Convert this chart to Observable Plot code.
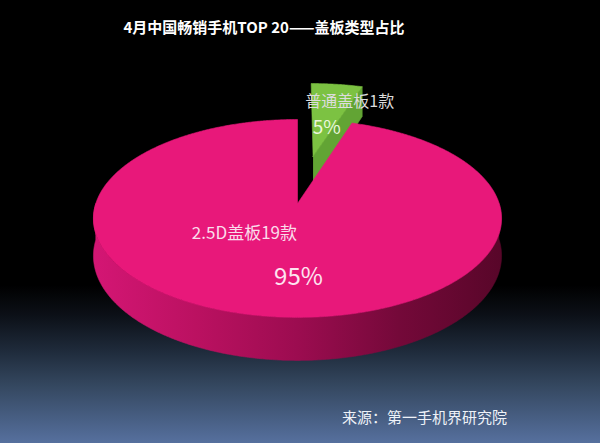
<!DOCTYPE html>
<html><head><meta charset="utf-8">
<script src="https://cdn.jsdelivr.net/npm/d3@7"></script>
<script src="https://cdn.jsdelivr.net/npm/@observablehq/plot@0.6"></script>
<style>
html,body{margin:0;padding:0;width:600px;height:443px;overflow:hidden}
body{background:linear-gradient(to bottom,#000 0px,#000 285px,#0c1017 315px,#1e2a3a 350px,#34475f 385px,#56709e 443px);font-family:"Noto Sans CJK SC","Noto Sans",sans-serif}
#title{height:50px;box-sizing:border-box;padding-top:17px;padding-right:72px;text-align:center;color:#fff;font-weight:bold;font-size:15px;line-height:20px;white-space:nowrap}
#chart{height:345px}
#chart svg{display:block;overflow:visible}
#caption{height:48px;box-sizing:border-box;padding-top:14px;padding-right:93px;text-align:right;color:#eef2f8;font-size:15px;line-height:16px;white-space:nowrap}
</style></head><body>
<div id="title"></div><div id="chart"></div><div id="caption"></div>
<script>
// ---- data ----
const titleText = "4月中国畅销手机TOP 20——盖板类型占比";
const captionText = "来源：第一手机界研究院";
const categories = ["普通盖板", "2.5D盖板"];
const counts = [1, 19];
const shares = [5, 95];
const unitLabel = "款";

// ---- styles ----
const palette = {
  "普通盖板": {top: "#7cc242", cut: "#62a434", side: ["#5c9e30", "#4a8424"], name: "#dcdcdc", pct: "#eaf6dc"},
  "2.5D盖板": {top: "#e8187a", cut: "#9a0d50", side: ["#d41674", "#bb1161", "#9c0c50", "#740939", "#580629"], name: "#fadcea", pct: "#fde4f0"}
};
const explode = {"普通盖板": 0.533, "2.5D盖板": 0};
const labelNudge = {
  "普通盖板": {name: [24, -16], pct: [1, 10]},
  "2.5D盖板": {name: [-36, -22], pct: [18, 22]}
};

// ---- simple perspective projection of a tilted disc ----
const cx = 297, cy0 = 153, R = 201.7, A = 96.7, P = 0.151, H = 36.5 / 96.7;
function proj(X, Z, b) { const s = 1 / (1 + P * Z); return {u: X * s, v: (Z - b * H) * s}; }

document.getElementById("title").textContent = titleText;
document.getElementById("caption").textContent = captionText;

const rows = categories.map((c, i) => ({category: c, count: counts[i], share: shares[i]}));
const arcs = d3.pie().sort(null).value(d => d.count)(rows);

const polys = [];
const labels = [];
arcs.forEach((a, i) => {
  const cat = a.data.category;
  const a0 = a.startAngle, a1 = a.endAngle, mid = (a0 + a1) / 2;
  const e = explode[cat];
  const ox = e * Math.sin(mid), oz = e * Math.cos(mid);
  const rim = (t, b) => proj(ox + Math.sin(t), oz + Math.cos(t), b);
  const ctr = b => proj(ox, oz, b);
  const depth = oz + Math.cos(mid);
  const faces = [];
  // cut faces
  if (Math.sin(a1) > 1e-6) faces.push({kind: "cut", pts: [ctr(0), rim(a1, 0), rim(a1, 1), ctr(1)]});
  if (Math.sin(a0) < -1e-6) faces.push({kind: "cut", pts: [ctr(0), rim(a0, 0), rim(a0, 1), ctr(1)]});
  // outer side (front half)
  const lo = Math.max(a0, Math.PI / 2), hi = Math.min(a1, 3 * Math.PI / 2);
  if (hi > lo) {
    const n = Math.max(2, Math.ceil((hi - lo) / (Math.PI / 360)));
    const topArc = d3.range(n + 1).map(k => rim(lo + (hi - lo) * k / n, 0));
    const botArc = d3.range(n + 1).map(k => rim(hi - (hi - lo) * k / n, 1));
    faces.push({kind: "side", pts: topArc.concat(botArc)});
  }
  // top face
  const n = Math.max(2, Math.ceil((a1 - a0) / (Math.PI / 360)));
  const arcPts = d3.range(n + 1).map(k => rim(a0 + (a1 - a0) * k / n, 0));
  faces.push({kind: "top", pts: [ctr(0), ...arcPts, ctr(0)]});
  polys.push({cat, idx: i, depth, faces});
  // labels anchored at the slice's mid-angle
  const anchor = proj(ox + 0.5 * Math.sin(mid), oz + 0.5 * Math.cos(mid), 0);
  const nn = labelNudge[cat];
  labels.push({cat, kind: "name", text: `${cat}${a.data.count}${unitLabel}`,
    u: anchor.u + nn.name[0] / R, v: anchor.v - nn.name[1] / A});
  labels.push({cat, kind: "pct", text: `${a.data.share}%`,
    u: anchor.u + nn.pct[0] / R, v: anchor.v - nn.pct[1] / A});
});
polys.sort((p, q) => q.depth - p.depth);

const marks = [];
polys.forEach(p => {
  const pal = palette[p.cat];
  p.faces.forEach(f => {
    const col = f.kind === "top" ? pal.top : f.kind === "cut" ? pal.cut : pal.side[0];
    marks.push(Plot.line(f.pts, {x: "u", y: "v", fill: col, stroke: col, strokeWidth: 0.6,
      className: f.kind === "side" ? `side-${p.idx}` : undefined}));
  });
});
labels.forEach(l => {
  const pal = palette[l.cat];
  const big = l.cat === "2.5D盖板";
  marks.push(Plot.text([l], {x: "u", y: "v", text: "text",
    fill: l.kind === "name" ? pal.name : pal.pct,
    fontSize: l.kind === "name" ? (big ? 17 : 16) : (big ? 24 : 19),
    fontFamily: "'Noto Sans CJK SC', 'Noto Sans', sans-serif"}));
});

const chart = Plot.plot({
  width: 600, height: 345, margin: 0,
  x: {domain: [-1, 1], range: [cx - R, cx + R], axis: null},
  y: {domain: [-1, 1], range: [cy0 + A, cy0 - A], axis: null},
  style: "background: transparent; overflow: visible;",
  marks
});

// gradient shading for the curved outer side
const defs = d3.select(chart).insert("defs", ":first-child");
polys.forEach(p => {
  const stops = palette[p.cat].side;
  const g = defs.append("linearGradient").attr("id", `sideGrad-${p.idx}`)
    .attr("x1", 0).attr("x2", 1).attr("y1", 0).attr("y2", 0);
  stops.forEach((c, k) => g.append("stop").attr("offset", k / (stops.length - 1)).attr("stop-color", c));
  d3.select(chart).selectAll(`.side-${p.idx} path`)
    .attr("fill", `url(#sideGrad-${p.idx})`).attr("stroke", `url(#sideGrad-${p.idx})`);
});

document.getElementById("chart").appendChild(chart);
</script>
</body></html>
